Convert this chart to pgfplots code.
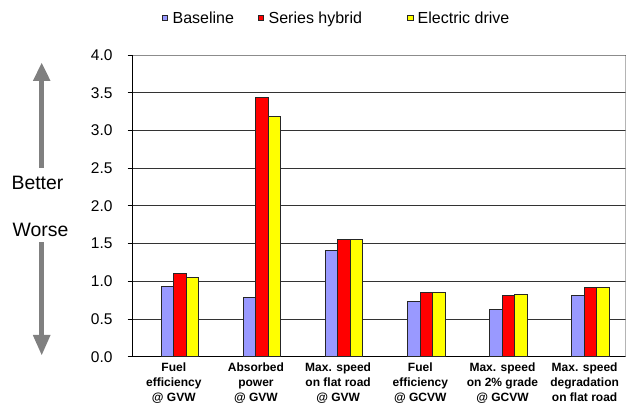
\documentclass[border=0pt]{standalone}
\usepackage{fontspec}
\setmainfont{Liberation Sans}
\usepackage{pgfplots}
\pgfplotsset{compat=1.18}

\definecolor{baseblue}{HTML}{9999FF}
\definecolor{hybred}{HTML}{FF0000}
\definecolor{elyellow}{HTML}{FFFF00}
\definecolor{arrowgray}{HTML}{808080}

\begin{document}
\begin{tikzpicture}
\useasboundingbox (0,0) rectangle (635bp,405bp);
\begin{axis}[
  at={(132.7bp,48.3bp)}, anchor=south west,
  scale only axis, width=493bp, height=301.7bp,
  ybar=0pt, bar width=12.5bp,
  xmin=-0.5, xmax=5.5,
  ymin=0, ymax=4,
  axis x line*=bottom, axis y line*=left,
  axis line style={black, line width=0.9bp},
  xtick={0,1,2,3,4,5},
  xticklabels={
    {Fuel\\efficiency\\@ GVW},
    {Absorbed\\power\\@ GVW},
    {Max. speed\\on flat road\\@ GVW},
    {Fuel\\efficiency\\@ GCVW},
    {Max. speed\\on 2\% grade\\@ GCVW},
    {Max. speed\\degradation\\on flat road}},
  x tick style={draw=none},
  xticklabel style={font=\fontsize{12bp}{15.3bp}\selectfont\bfseries,
    align=center, anchor=north, inner sep=0pt, yshift=-0.5bp},
  extra x ticks={-0.5,0.5,1.5,2.5,3.5,4.5,5.5},
  extra x tick labels={},
  extra x tick style={grid=none, major tick length=5bp, tick align=outside,
    tick style={draw=black, line width=0.8bp}},
  ytick={0,0.5,...,4},
  yticklabel style={font=\fontsize{15.5bp}{18bp}\selectfont, inner sep=0pt, xshift=-15bp},
  /pgf/number format/.cd, fixed, fixed zerofill, precision=1, assume math mode=true,
  /pgfplots/.cd,
  y tick style={black, line width=0.8bp},
  major tick length=5bp, tick align=outside,
  ymajorgrids, grid style={black!80, line width=0.8bp},
  legend columns=3,
  legend style={draw=none, fill=none, inner sep=0pt,
    at={(0.0588,1.1227)}, anchor=west,
    font=\fontsize{16bp}{19bp}\selectfont,
    nodes={inner sep=0pt},
    /tikz/every odd column/.append style={column sep=4.5bp},
    /tikz/every even column/.append style={column sep=24bp}},
  legend image code/.code={\draw[#1, draw=black!85, line width=0.7bp]
    (0bp,-2.8bp) rectangle (5.5bp,2.8bp);},
  every axis plot/.append style={draw=black!85, line width=0.8bp},
]
\addplot[fill=baseblue] coordinates
  {(0.073,0.93) (1.073,0.78) (2.073,1.41) (3.073,0.73) (4.073,0.63) (5.073,0.81)};
\addplot[fill=hybred] coordinates
  {(0.073,1.10) (1.073,3.44) (2.073,1.56) (3.073,0.85) (4.073,0.81) (5.073,0.92)};
\addplot[fill=elyellow] coordinates
  {(0.073,1.05) (1.073,3.18) (2.073,1.56) (3.073,0.85) (4.073,0.83) (5.073,0.92)};
\legend{Baseline, Series hybrid\hspace*{21bp}, Electric drive}
% top and right borders of the plot area
\draw[black!45, line width=1.2bp] (rel axis cs:0,1) -- (rel axis cs:1,1) -- (rel axis cs:1,0);
\end{axis}
% direction arrows beside the value axis
\fill[arrowgray] (39.4bp,237bp) rectangle (44bp,326bp);
\fill[arrowgray] (32.8bp,324bp) -- (41.7bp,342bp) -- (50.6bp,324bp) -- cycle;
\fill[arrowgray] (39.4bp,163bp) rectangle (44bp,68bp);
\fill[arrowgray] (32.8bp,70bp) -- (41.7bp,50bp) -- (50.6bp,70bp) -- cycle;
\node[font=\fontsize{19.4bp}{22bp}\selectfont, inner sep=0pt] at (37.5bp,222bp) {Better};
\node[font=\fontsize{19.4bp}{22bp}\selectfont, inner sep=0pt] at (40.5bp,175bp) {Worse};
\end{tikzpicture}
\end{document}
